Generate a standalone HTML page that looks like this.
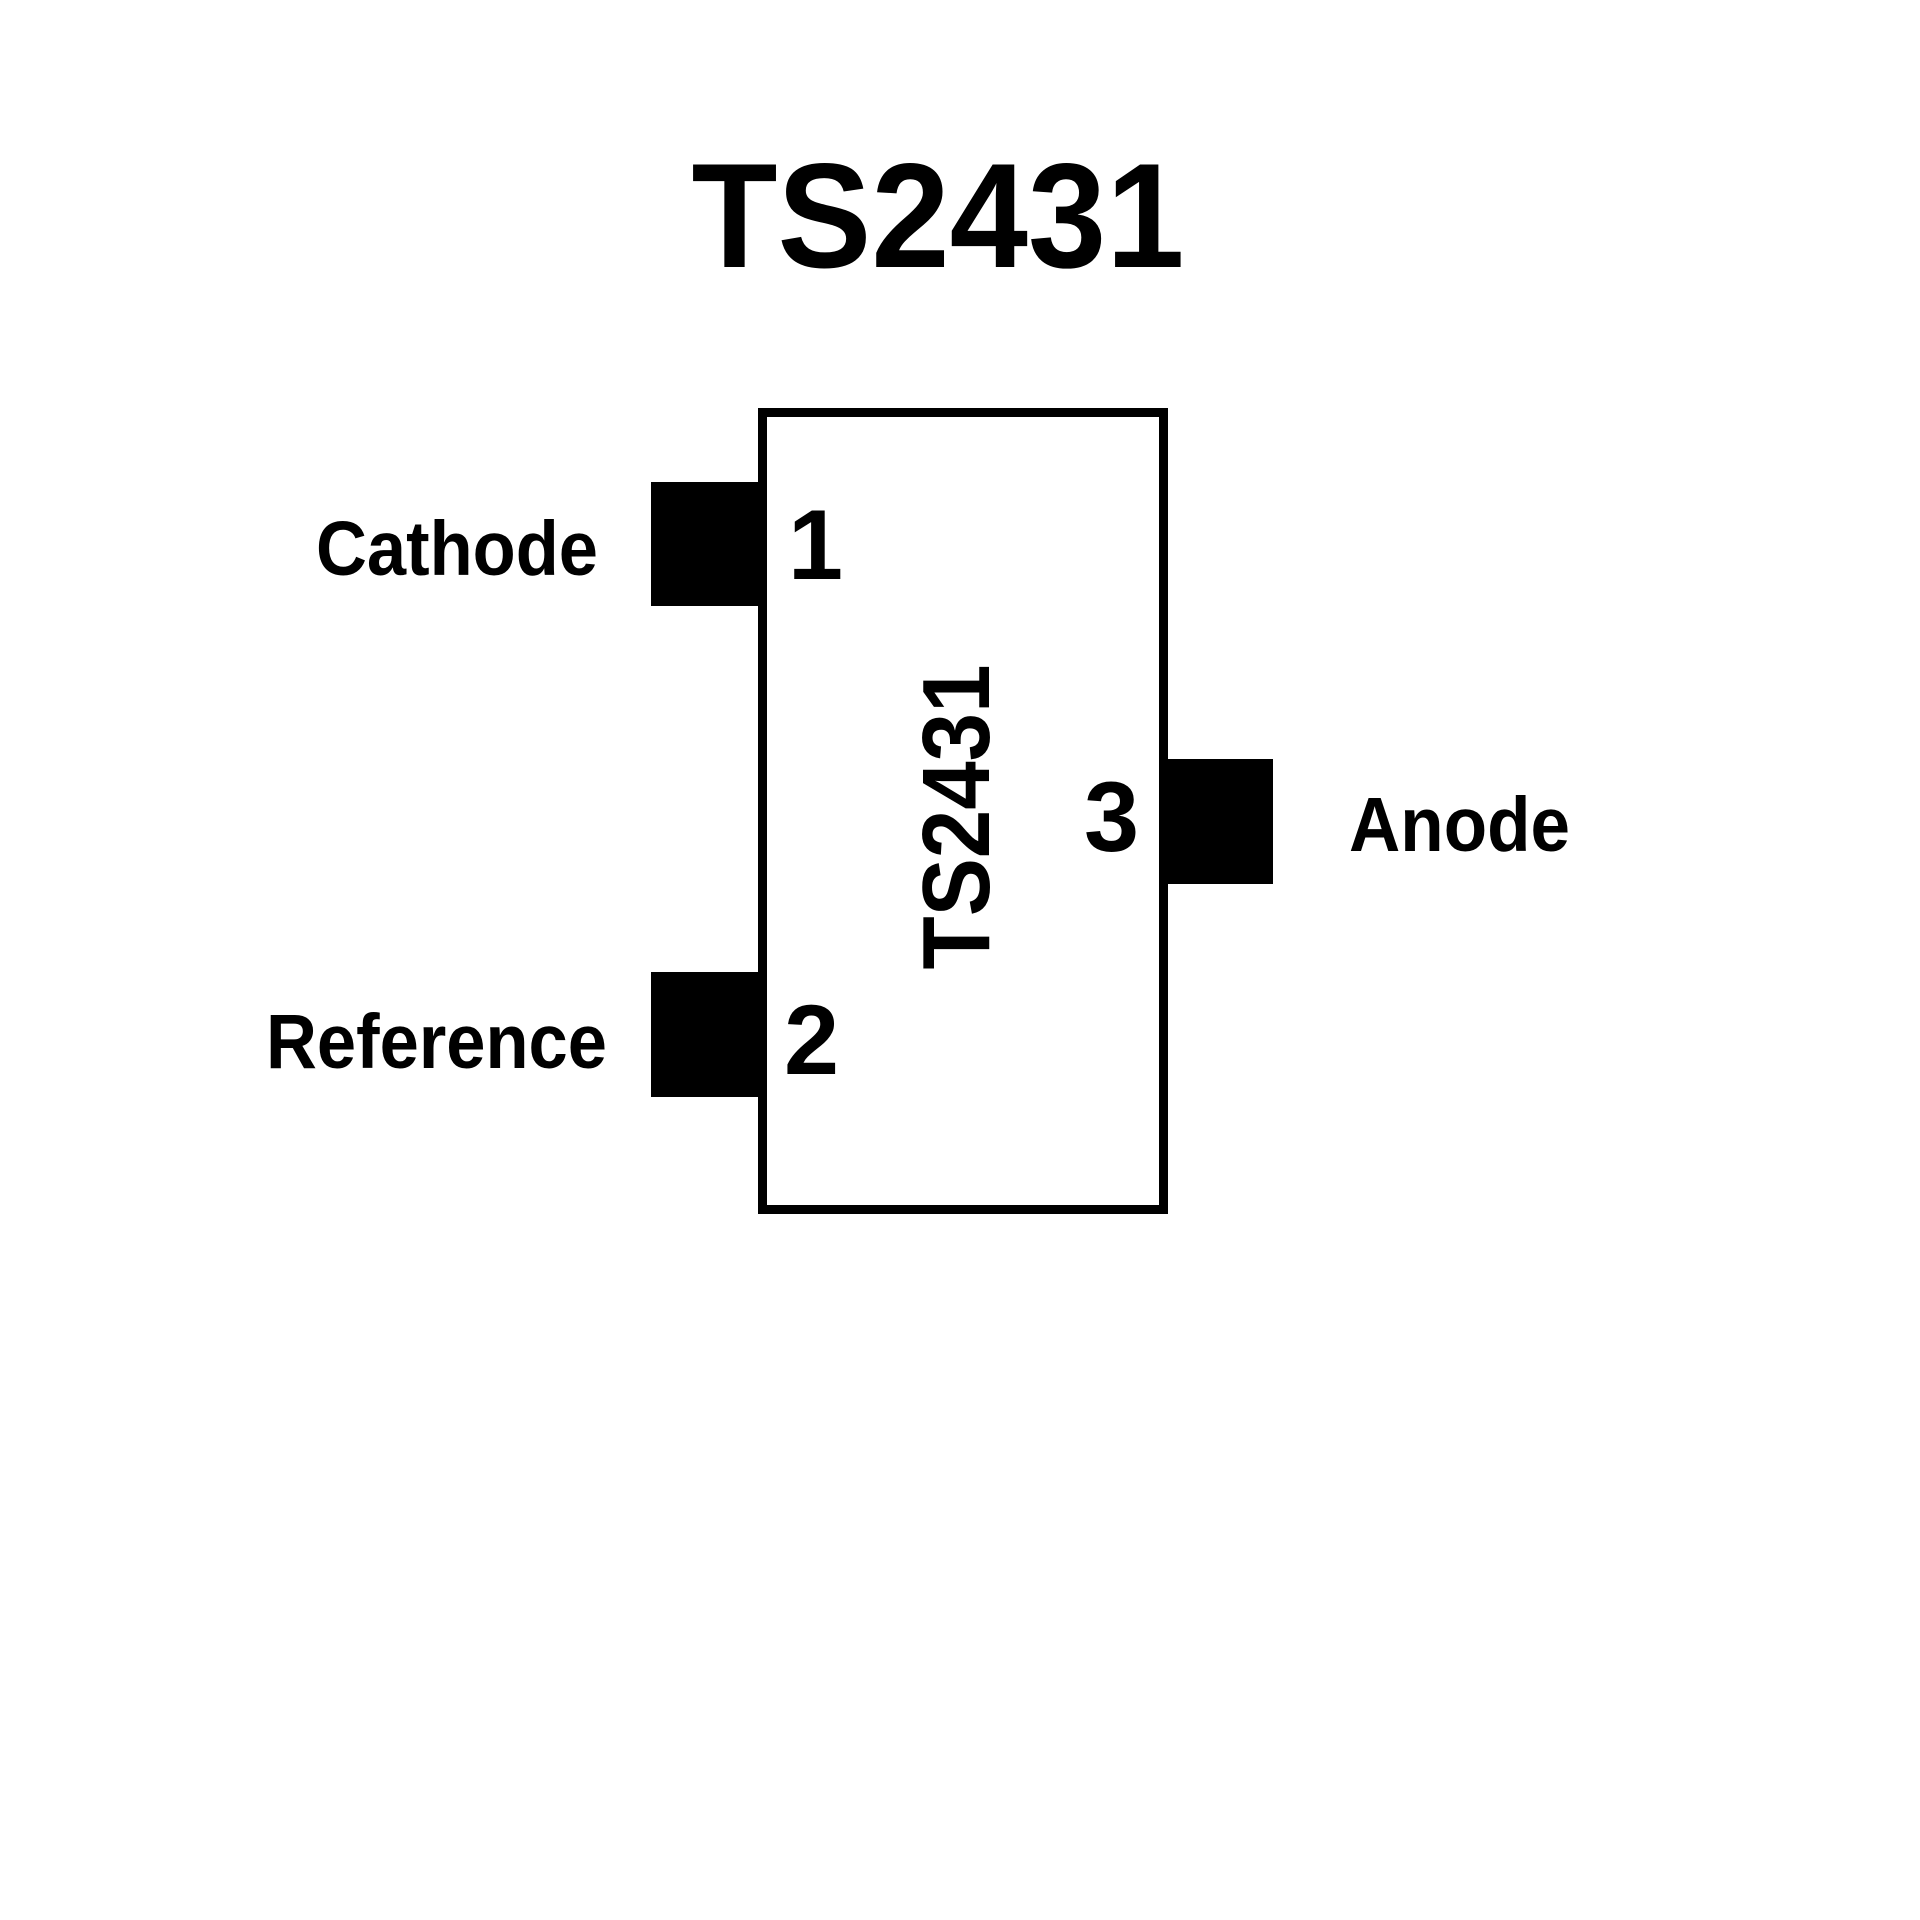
<!DOCTYPE html>
<html><head><meta charset="utf-8"><style>html,body{margin:0;padding:0;background:#fff}svg{display:block}</style></head>
<body>
<svg width="1920" height="1920" viewBox="0 0 1920 1920" xmlns="http://www.w3.org/2000/svg" font-family="Liberation Sans, Arial, sans-serif" font-weight="bold">
<rect width="1920" height="1920" fill="#fff"/>
<text x="938" y="267" font-size="149" text-anchor="middle" textLength="493" lengthAdjust="spacingAndGlyphs">TS2431</text>
<rect x="762.5" y="412.5" width="401" height="797" fill="none" stroke="#000" stroke-width="9"/>
<rect x="651" y="482" width="108" height="124" fill="#000"/>
<rect x="651" y="972" width="108" height="125" fill="#000"/>
<rect x="1167" y="759" width="106" height="125" fill="#000"/>
<text x="598" y="575" font-size="77" text-anchor="end" textLength="282" lengthAdjust="spacingAndGlyphs">Cathode</text>
<text x="607" y="1068" font-size="77" text-anchor="end" textLength="341" lengthAdjust="spacingAndGlyphs">Reference</text>
<text x="1349" y="851" font-size="77" textLength="221" lengthAdjust="spacingAndGlyphs">Anode</text>
<text x="788" y="579" font-size="99">1</text>
<text x="784" y="1074" font-size="99">2</text>
<text x="1084" y="851" font-size="99">3</text>
<text transform="translate(989,817) rotate(-90)" font-size="96" text-anchor="middle" textLength="305" lengthAdjust="spacingAndGlyphs">TS2431</text>
</svg>
</body></html>
